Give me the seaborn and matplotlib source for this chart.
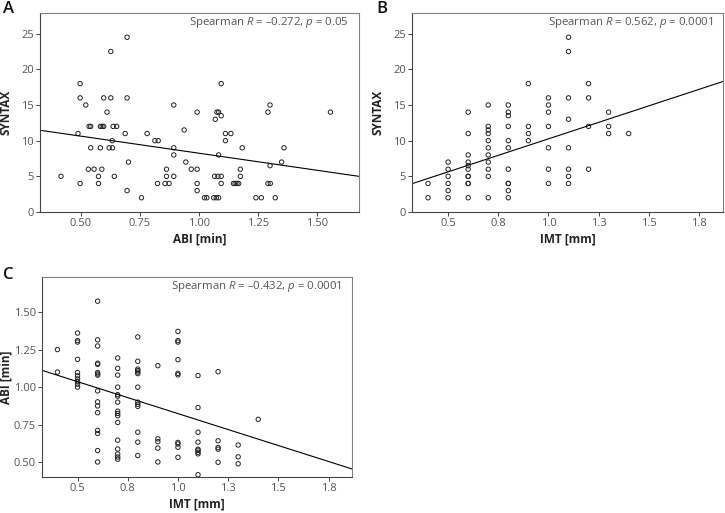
import numpy as np
import pandas as pd
import matplotlib
matplotlib.use('Agg')
import matplotlib.pyplot as plt
import seaborn as sns

# ── Data ────────────────────────────────────────────────────────────────────
# Panel A: ABI [min] vs SYNTAX
abi_a = [0.415, 0.487, 0.496, 0.496, 0.496, 0.520, 0.534, 0.541, 0.541, 0.531,
         0.555, 0.574, 0.574, 0.582, 0.589, 0.596, 0.582, 0.588, 0.596, 0.610,
         0.619, 0.633, 0.626, 0.626, 0.632, 0.636, 0.651, 0.641, 0.687, 0.695,
         0.695, 0.695, 0.701, 0.756, 0.780, 0.813, 0.827, 0.824, 0.856, 0.873,
         0.862, 0.862, 0.893, 0.893, 0.893, 0.893, 0.937, 0.944, 0.967, 0.992,
         0.992, 0.992, 0.992, 1.023, 1.033, 1.062, 1.073, 1.083, 1.069, 1.076,
         1.083, 1.094, 1.094, 1.083, 1.066, 1.080, 1.094, 1.094, 1.112, 1.112,
         1.135, 1.146, 1.153, 1.161, 1.168, 1.175, 1.175, 1.183, 1.241, 1.264,
         1.292, 1.301, 1.301, 1.292, 1.302, 1.323, 1.350, 1.360, 1.557]
syntax_a = [5, 11, 18, 16, 4, 15, 12, 12, 9, 6,
            6, 5, 4, 12, 12, 12, 9, 6, 16, 14,
            9, 9, 16, 22.5, 10, 12, 12, 5, 11, 24.5,
            16, 3, 7, 2, 11, 10, 10, 4, 4, 4,
            6, 5, 15, 9, 8, 5, 11.5, 7, 6, 14,
            6, 4, 3, 2, 2, 2, 2, 2, 13, 14,
            14, 18, 13.5, 8, 5, 5, 5, 4, 10, 11,
            11, 4, 4, 4, 4, 5, 6, 9, 2, 2,
            14, 15, 6.5, 4, 4, 2, 7, 9, 14]

# Panel B: IMT [mm] vs SYNTAX
imt_b = ([0.4] * 2 + [0.5] * 6 + [0.6] * 11 + [0.7] * 11 + [0.8] * 11 +
         [0.9] * 4 + [1.0] * 7 + [1.1] * 8 + [1.2] * 4 + [1.3] * 3 + [1.4] * 1)
syntax_b = [4, 2,
            7, 6, 5, 4, 3, 2,
            14, 11, 8, 7, 6.5, 6, 5, 5, 4, 4, 2,
            15, 12, 11.5, 11, 10, 9, 8, 7, 6, 5, 2,
            15, 14, 13.5, 12, 10, 9, 6, 4, 4, 3, 2,
            18, 12, 11, 10,
            16, 15, 14, 12, 9, 6, 4,
            24.5, 22.5, 16, 13, 9, 6, 5, 4,
            18, 16, 12, 6,
            14, 12, 11,
            11]

# Panel C: IMT [mm] vs ABI [min]
imt_c = ([0.4] * 2 + [0.5] * 10 + [0.6] * 16 + [0.7] * 16 + [0.8] * 13 +
         [0.9] * 5 + [1.0] * 10 + [1.1] * 9 + [1.2] * 5 + [1.3] * 3 + [1.4] * 1)
abi_c = [1.25, 1.10,
         1.36, 1.31, 1.30, 1.185, 1.097, 1.075, 1.055, 1.037, 1.02, 1.0,
         1.572, 1.315, 1.274, 1.159, 1.152, 1.097, 1.088, 1.08, 0.975, 0.902,
         0.875, 0.83, 0.712, 0.692, 0.578, 0.502,
         1.194, 1.125, 1.08, 1.0, 0.95, 0.94, 0.90, 0.84, 0.825, 0.81,
         0.765, 0.647, 0.588, 0.555, 0.535, 0.52,
         1.334, 1.172, 1.12, 1.11, 1.10, 1.09, 1.0, 0.90, 0.886, 0.872,
         0.70, 0.634, 0.545,
         1.143, 0.656, 0.637, 0.594, 0.502,
         1.371, 1.31, 1.30, 1.183, 1.092, 1.082, 0.632, 0.622, 0.60, 0.533,
         1.077, 0.864, 0.70, 0.634, 0.587, 0.58, 0.567, 0.556, 0.417,
         1.103, 0.643, 0.598, 0.587, 0.50,
         0.615, 0.536, 0.49,
         0.786]

# fitted lines as printed in the source figure (intercept, slope)
fit_a = (13.02, -4.78)
fit_b = (1.01, 9.245)
fit_c = (1.249, -0.425)

# ── Ticks / labels ──────────────────────────────────────────────────────────
abi_ticks = [0.50, 0.75, 1.00, 1.25, 1.50]
abi_labels = ['0.50', '0.75', '1.00', '1.25', '1.50']
imt_ticks = [0.50, 0.75, 1.00, 1.25, 1.50, 1.75]
imt_labels = ['0.5', '0.8', '1.0', '1.3', '1.5', '1.8']
syntax_ticks = [0, 5, 10, 15, 20, 25]

stats_a = 'Spearman $R$ = \u20130.272, $p$ = 0.05'
stats_b = 'Spearman $R$ = 0.562, $p$ = 0.0001'
stats_c = 'Spearman $R$ = \u20130.432, $p$ = 0.0001'

# ── Style ───────────────────────────────────────────────────────────────────
sns.set_style('ticks')
plt.rcParams['font.family'] = ['Open Sans', 'DejaVu Sans']
plt.rcParams['mathtext.fontset'] = 'custom'
plt.rcParams['mathtext.rm'] = 'Open Sans'
plt.rcParams['mathtext.it'] = 'Open Sans:italic'

TICK_GREY = '#555555'
SPINE_GREY = '#808080'


def style_axis(ax):
    for sp in ax.spines.values():
        sp.set_visible(True)
        sp.set_color(SPINE_GREY)
        sp.set_linewidth(0.8)
    ax.spines['left'].set_color('#444444')
    ax.spines['bottom'].set_color('#444444')
    ax.tick_params(direction='out', length=3, width=0.7, color='#444444',
                   labelcolor=TICK_GREY, labelsize=8, pad=1.5)


def panel(ax, x, y, fit, xlim, ylim, xticks, xlabels, yticks, ylabels,
          xlabel, ylabel, stats, ylab_x):
    df = pd.DataFrame({'x': x, 'y': y})
    sns.scatterplot(data=df, x='x', y='y', ax=ax, marker='o', s=10,
                    facecolor='none', edgecolor='#222222', linewidth=0.7)
    line = pd.DataFrame({'x': list(xlim)})
    line['y'] = fit[0] + fit[1] * line['x']
    sns.lineplot(data=line, x='x', y='y', ax=ax, color='black', linewidth=0.8)
    ax.set_xlim(*xlim)
    ax.set_ylim(*ylim)
    ax.set_xticks(xticks)
    ax.set_xticklabels(xlabels)
    ax.set_yticks(yticks)
    ax.set_yticklabels(ylabels)
    ax.set_xlabel(xlabel, fontsize=8.5, fontweight='bold', color='#222222',
                  labelpad=2)
    ax.set_ylabel(ylabel, fontsize=8.5, fontweight='bold', color='#222222')
    ax.yaxis.set_label_coords(ylab_x, 0.5)
    ax.text(0.967, 0.95, stats, transform=ax.transAxes, ha='right',
            va='center', fontsize=8.2, color='#555555')
    style_axis(ax)


fig = plt.figure(figsize=(7.25, 5.13), dpi=100)
ax_a = fig.add_axes([40 / 725, 1 - 212 / 513, 319 / 725, 199 / 513])
ax_b = fig.add_axes([412 / 725, 1 - 212 / 513, 311 / 725, 199 / 513])
ax_c = fig.add_axes([42 / 725, 1 - 477 / 513, 310 / 725, 200 / 513])

panel(ax_a, abi_a, syntax_a, fit_a, (0.326, 1.678), (0, 27.9),
      abi_ticks, abi_labels, syntax_ticks, [str(t) for t in syntax_ticks],
      'ABI [min]', 'SYNTAX', stats_a, -0.085)
panel(ax_b, imt_b, syntax_b, fit_b, (0.32, 1.87), (0, 27.9),
      imt_ticks, imt_labels, syntax_ticks, [str(t) for t in syntax_ticks],
      'IMT [mm]', 'SYNTAX', stats_b, -0.087)
panel(ax_c, imt_c, abi_c, fit_c, (0.323, 1.867), (0.402, 1.733),
      imt_ticks, imt_labels, abi_ticks, abi_labels,
      'IMT [mm]', 'ABI [min]', stats_c, -0.094)

# panel letters
for lbl, (px, py) in zip(['A', 'B', 'C'], [(3, 1), (376, 1), (3, 267)]):
    fig.text(px / 725, 1 - py / 513, lbl, ha='left', va='top',
             fontsize=12, fontweight='semibold', color='#111111')

fig.savefig('out.png', dpi=100)
